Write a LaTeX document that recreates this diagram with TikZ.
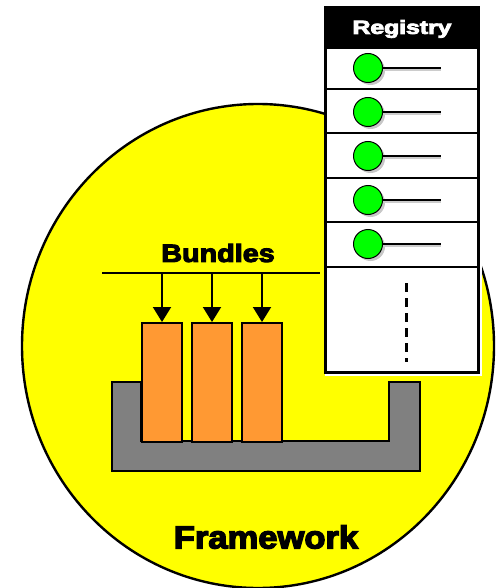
\documentclass[tikz,border=0pt]{standalone}
\usepackage{fontspec}
\setmainfont{Liberation Sans}
\newfontfamily\heavy{Liberation Sans}[UprightFeatures={FakeBold=4}, BoldFeatures={FakeBold=4}]
\usetikzlibrary{shapes.geometric,arrows.meta}
\definecolor{fwyellow}{HTML}{FFFF00}
\definecolor{bundleorange}{HTML}{FF9933}
\definecolor{basegrey}{HTML}{808080}
\definecolor{svcgreen}{HTML}{00FF00}
\tikzset{
  rowbox/.style={draw=black, line width=1.8pt, fill=white, minimum width=152pt, inner sep=0pt, anchor=north west},
  svc/.style={circle, draw=black, line width=1pt, fill=svcgreen, minimum size=29pt, inner sep=0pt},
  svcshadow/.style={circle, fill=black!22, minimum size=29pt, inner sep=0pt},
  bundlebox/.style={draw=black, line width=2pt, fill=bundleorange, minimum width=40pt, minimum height=119pt, inner sep=0pt, anchor=north west},
  feed/.style={line width=2pt, -{Triangle[length=15pt,width=18pt]}},
  title/.style={font=\heavy\bfseries}
}
\begin{document}
\begin{tikzpicture}[x=1pt,y=-1pt]
\useasboundingbox (0,0) rectangle (495,588);
% framework ellipse
\node[ellipse, draw=black, line width=2.4pt, fill=fwyellow, minimum width=472pt, minimum height=484pt, inner sep=0pt] (fw) at (258,346) {};
\node[title, font=\heavy\bfseries\fontsize{32}{36}\selectfont] (fwlabel) at (266,537) {\scalebox{1.08}[1]{Framework}};
% base (U shape)
\draw[draw=black, line width=2pt, fill=basegrey] (112,382) -- (141,382) -- (141,441) -- (389,441) -- (389,382) -- (420,382) -- (420,471) -- (112,471) -- cycle;
% bundles
\node[bundlebox] (b1) at (141,322) {};
\node[bundlebox] (b2) at (191,322) {};
\node[bundlebox] (b3) at (241,322) {};
\node[title, font=\heavy\bfseries\fontsize{25}{30}\selectfont] (blabel) at (218,253) {\scalebox{1.15}[1]{Bundles}};
\coordinate (barL) at (102,273);
\coordinate (barR) at (320,273);
\draw[line width=2pt] (barL) -- (barR);
\coordinate (f1) at (b1.north |- barL);
\coordinate (f2) at (b2.north |- barL);
\coordinate (f3) at (b3.north |- barL);
\draw[feed] (f1) -- (b1.north);
\draw[feed] (f2) -- (b2.north);
\draw[feed] (f3) -- (b3.north);
% registry
\fill[white] (325,7) rectangle (482,376);
\node[rowbox, fill=black, minimum height=41pt] (hdr) at (325,7) {};
\node[font=\heavy\bfseries\fontsize{19}{22}\selectfont, text=white] (rlabel) at (402,29) {\scalebox{1.3}[1]{Registry}};
\node[rowbox, minimum height=41pt] (r1) at (325,47) {};
\node[rowbox, minimum height=44pt] (r2) at (325,88) {};
\node[rowbox, minimum height=45pt] (r3) at (325,132) {};
\node[rowbox, minimum height=44pt] (r4) at (325,177) {};
\node[rowbox, minimum height=45pt] (r5) at (325,221) {};
\node[rowbox, minimum height=105pt] (r6) at (325,266) {};
\draw[line width=2.4pt] (hdr.north west) rectangle (r6.south east);
\foreach \i/\y in {1/68,2/112,3/156,4/200,5/244}{
  \node[svcshadow] (s\i) at (370.5,\y+2.5) {};
  \coordinate (e\i) at (441,\y);
  \draw[black!20, line width=1.6pt] (370,\y+2) -- (441,\y+2);
  \node[svc] (c\i) at (368,\y) {};
  \draw[line width=1.4pt] (c\i.east) -- (e\i);
}
\coordinate (dtop) at (406,283);
\coordinate (dbot) at (406,362);
\draw[line width=3pt, dash pattern=on 9pt off 6pt] (dtop) -- (dbot);
\end{tikzpicture}
\end{document}
